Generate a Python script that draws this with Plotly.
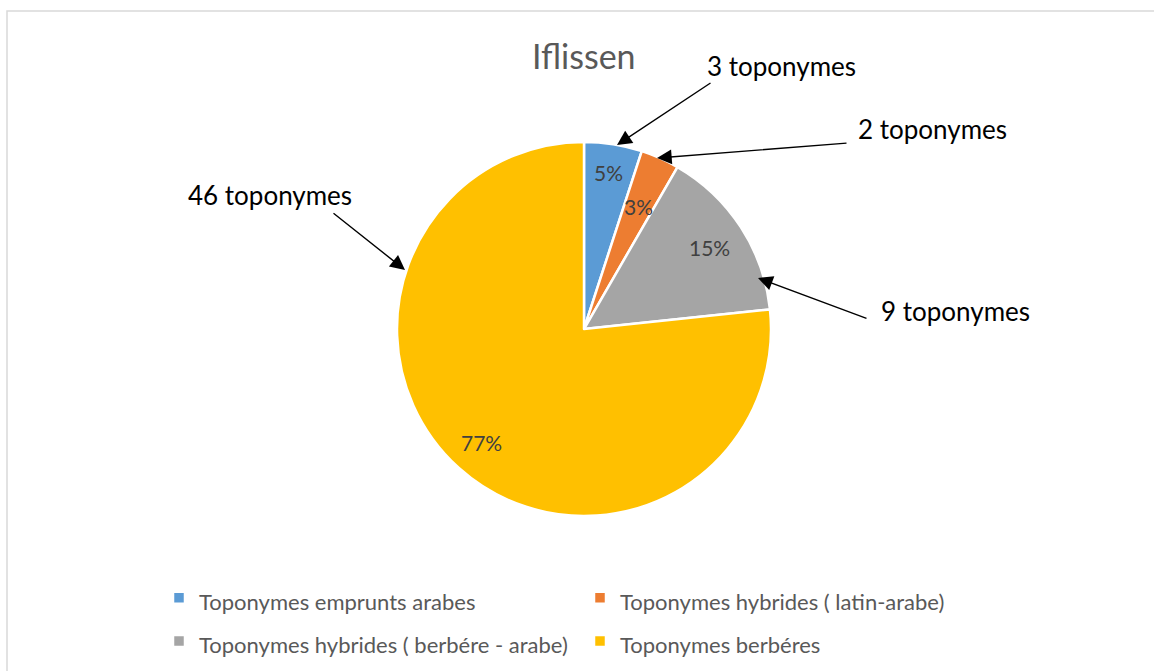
import math
import plotly.graph_objects as go

# ---- data ----
categories = [
    "Toponymes emprunts arabes",
    "Toponymes hybrides ( latin-arabe)",
    "Toponymes hybrides ( berbére - arabe)",
    "Toponymes berbéres",
]
counts = [3, 2, 9, 46]
percent_labels = ["5%", "3%", "15%", "77%"]
callout_labels = [f"{c} toponymes" for c in counts]
title_text = "Iflissen"

# ---- style ----
W, H = 1154, 671
colors = ["#5B9BD5", "#ED7D31", "#A5A5A5", "#FFC000"]
FONT = "Lato"
cx, cy, R = 584, 329, 187  # pie centre / radius in pixels


def px(x):
    return x / W


def py(y):
    return 1 - y / H


legend_labels = [f"<span style='font-size:22px'>{c}</span>" for c in categories]

fig = go.Figure()
fig.add_trace(go.Pie(
    labels=legend_labels,
    values=counts,
    sort=False,
    direction="clockwise",
    rotation=0,
    marker=dict(colors=colors, line=dict(color="white", width=2.5)),
    textinfo="none",
    hoverinfo="value+percent",
    domain=dict(x=[px(cx - R), px(cx + R)], y=[py(cy + R), py(cy - R)]),
))

annotations = []
# percent labels placed at slice mid-angles
radial_frac = [0.85, 0.72, 0.80, 0.82]
total = sum(counts)
cum = 0
for i, c in enumerate(counts):
    mid = (cum + c / 2) / total * 2 * math.pi
    cum += c
    r = R * radial_frac[i]
    x = cx + r * math.sin(mid)
    y = cy - r * math.cos(mid)
    annotations.append(dict(
        x=px(x), y=py(y), xref="paper", yref="paper", text=percent_labels[i],
        xanchor="center", yanchor="middle",
        showarrow=False, font=dict(family=FONT, size=21, color="#404040"),
    ))

# callouts: (text centre), (arrow tail), (arrow tip) in pixels
callout_text_pos = [(781, 66), (933, 129), (955, 311), (270, 195)]
callout_tail = [(712, 82), (848, 143), (868, 319), (332, 212)]
callout_tip = [(617, 145), (657, 158), (758, 278), (405, 270)]
for i, lab in enumerate(callout_labels):
    tx, ty = callout_text_pos[i]
    annotations.append(dict(
        x=px(tx), y=py(ty), xref="paper", yref="paper", text=lab,
        xanchor="center", yanchor="middle",
        showarrow=False, font=dict(family=FONT, size=26, color="#000000"),
    ))
    (ax0, ay0), (bx, by) = callout_tail[i], callout_tip[i]
    annotations.append(dict(
        x=px(bx), y=py(by), xref="paper", yref="paper", text="",
        showarrow=True, ax=ax0 - bx, ay=ay0 - by, axref="pixel", ayref="pixel",
        arrowhead=2, arrowsize=2.1, arrowwidth=1.4, arrowcolor="#000000",
        standoff=0, startstandoff=0,
    ))

annotations.append(dict(
    x=px(584), y=py(56), xref="paper", yref="paper", text=title_text,
    xanchor="center", yanchor="middle",
    showarrow=False, font=dict(family=FONT, size=34, color="#595959"),
))

fig.update_layout(
    width=W, height=H,
    margin=dict(l=0, r=0, t=0, b=0),
    paper_bgcolor="white", plot_bgcolor="white",
    font=dict(family=FONT),
    annotations=annotations,
    shapes=[dict(type="rect", xref="paper", yref="paper",
                 x0=px(7), x1=1.05, y0=-0.05, y1=py(11),
                 line=dict(color="#D9D9D9", width=1.5), fillcolor="rgba(0,0,0,0)")],
    showlegend=True,
    legend=dict(
        orientation="h", x=px(159), y=py(571), xanchor="left", yanchor="top",
        entrywidth=376, entrywidthmode="pixels",
        font=dict(family=FONT, size=31, color="#595959"),
        itemwidth=30, traceorder="normal",
    ),
)

fig.write_html(
    "out.html",
    config={"displayModeBar": False},
    post_script="document.body.style.margin='0';document.body.style.overflow='hidden';",
)
